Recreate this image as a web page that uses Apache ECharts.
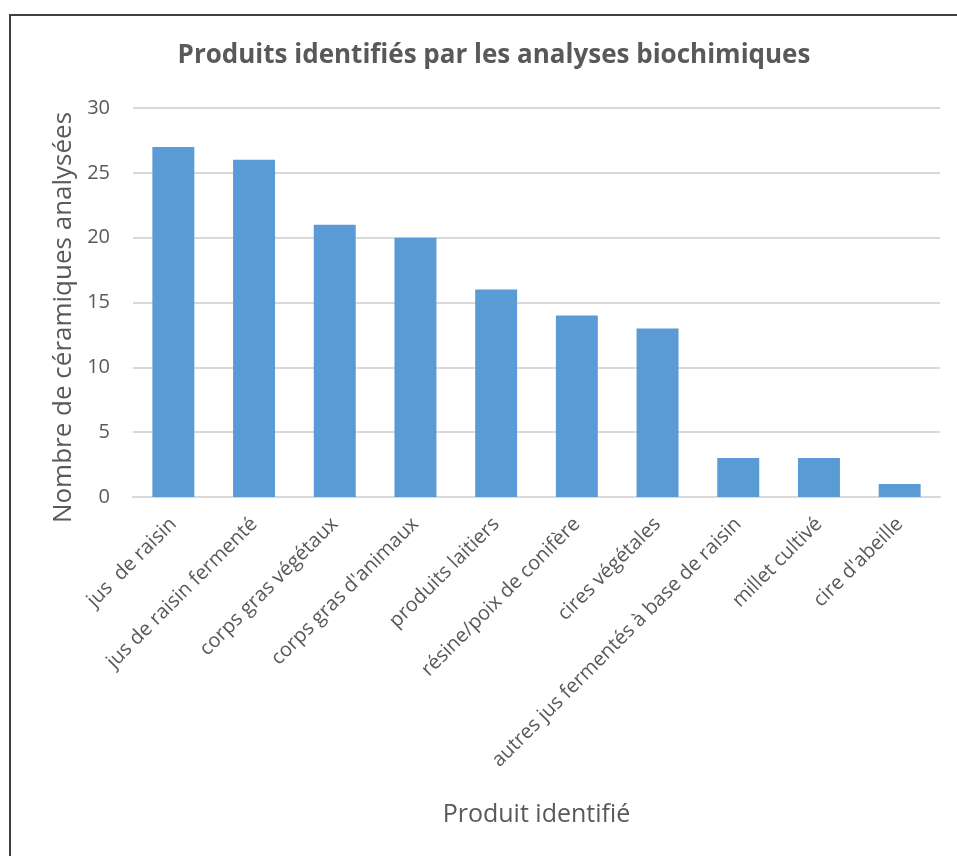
<!DOCTYPE html>
<html>
<head>
<meta charset="utf-8">
<style>
  html, body { margin: 0; padding: 0; background: #ffffff; }
  #chart { width: 957px; height: 856px; }
</style>
<script src="https://cdn.jsdelivr.net/npm/echarts@6/dist/echarts.min.js"></script>
</head>
<body>
<div id="chart"></div>
<script>
// Products identified by biochemical analysis, number of ceramics per product
const categories = [
  'jus  de raisin',
  'jus de raisin fermenté',
  'corps gras végétaux',
  "corps gras d'animaux",
  'produits laitiers',
  'résine/poix de conifère',
  'cires végétales',
  'autres jus fermentés à base de raisin',
  'millet cultivé',
  "cire d'abeille"
];
const counts = [27, 26, 21, 20, 16, 14, 13, 3, 3, 1];
const yTicks = [0, 5, 10, 15, 20, 25, 30];

const chart = echarts.init(document.getElementById('chart'), null, { renderer: 'canvas' });
const textColor = '#595959';
const font = '"Open Sans", "DejaVu Sans", sans-serif';

chart.setOption({
  backgroundColor: '#ffffff',
  animation: false,
  title: {
    text: 'Produits identifiés par les analyses biochimiques',
    left: 489,
    top: 38,
    textAlign: 'center',
    textStyle: { fontFamily: font, fontWeight: 'bold', fontSize: 26, color: textColor }
  },
  graphic: [
    { type: 'line', shape: { x1: 9, y1: 15, x2: 957, y2: 15 }, style: { stroke: '#3f3f3f', lineWidth: 2 } },
    { type: 'line', shape: { x1: 10, y1: 15, x2: 10, y2: 856 }, style: { stroke: '#3f3f3f', lineWidth: 2 } }
  ],
  grid: { left: 133, right: 17, top: 108, bottom: 359, containLabel: false },
  xAxis: {
    type: 'category',
    data: categories,
    name: 'Produit identifié',
    nameLocation: 'middle',
    nameGap: 305,
    nameTextStyle: { fontFamily: font, fontSize: 25, color: textColor },
    axisLine: { lineStyle: { color: '#d9d9d9', width: 2 } },
    axisTick: { show: false },
    axisLabel: {
      rotate: 45,
      interval: 0,
      margin: 24,
      fontFamily: font,
      fontSize: 20,
      color: textColor
    }
  },
  yAxis: {
    type: 'value',
    min: yTicks[0],
    max: yTicks[yTicks.length - 1],
    interval: 5,
    name: 'Nombre de céramiques analysées',
    nameLocation: 'middle',
    nameGap: 56,
    nameTextStyle: { fontFamily: font, fontSize: 26, color: textColor, padding: [0, 30, 0, 0] },
    axisLine: { show: false },
    axisTick: { show: false },
    axisLabel: { margin: 23, fontFamily: font, fontSize: 20, color: textColor },
    splitLine: { lineStyle: { color: '#d9d9d9', width: 2 } }
  },
  series: [{
    type: 'bar',
    data: counts,
    barWidth: '52%',
    itemStyle: { color: '#5b9bd5' }
  }]
});
</script>
</body>
</html>
